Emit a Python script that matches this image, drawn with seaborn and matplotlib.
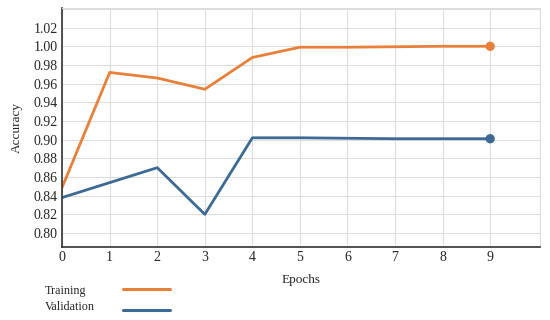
import pandas as pd
import matplotlib.pyplot as plt
import seaborn as sns
from matplotlib.lines import Line2D

# Accuracy per epoch
epochs = [0, 1, 2, 3, 4, 5, 6, 7, 8, 9]
training = [0.849, 0.972, 0.966, 0.954, 0.988, 0.999, 0.999, 0.9995, 1.0, 1.0]
validation = [0.838, 0.854, 0.870, 0.820, 0.902, 0.902, 0.9015, 0.901, 0.901, 0.901]
y_ticks = [0.80, 0.82, 0.84, 0.86, 0.88, 0.90, 0.92, 0.94, 0.96, 0.98, 1.00, 1.02]
series = ['Training', 'Validation']

df = pd.DataFrame({'Epoch': epochs, 'Training': training, 'Validation': validation})
df = df.melt(id_vars='Epoch', var_name='Set', value_name='Accuracy')

orange = '#E8803A'
blue = '#3C6A94'
colors = {'Training': orange, 'Validation': blue}

sns.set_style('whitegrid', {'grid.color': '#dddddd'})
plt.rcParams['font.family'] = ['Liberation Serif', 'DejaVu Serif']

fig = plt.figure(figsize=(5.5, 3.2), dpi=100)
ax = fig.add_axes([0.113, 0.228, 0.869, 0.747])

sns.lineplot(data=df, x='Epoch', y='Accuracy', hue='Set', palette=colors,
             linewidth=2, legend=False, ax=ax)
# end markers
last = df[df['Epoch'] == epochs[-1]]
sns.scatterplot(data=last, x='Epoch', y='Accuracy', hue='Set', palette=colors,
                s=45, edgecolor='none', legend=False, ax=ax, zorder=5)

ax.set_xlim(0, 10.05)
ax.set_ylim(0.785, 1.041)
ax.set_xticks(epochs)
ax.set_yticks(y_ticks + [1.04])
ax.set_yticklabels([f'{v:.2f}' for v in y_ticks] + [''])
ax.tick_params(labelsize=10, length=0, pad=3)
ax.set_xlabel('Epochs', fontsize=9.5, labelpad=7)
ax.set_ylabel('Accuracy', fontsize=9.5, labelpad=8)

for side in ['left', 'bottom']:
    ax.spines[side].set_color('#333333')
    ax.spines[side].set_linewidth(1.2)
for side in ['top', 'right']:
    ax.spines[side].set_color('#dddddd')
    ax.spines[side].set_linewidth(0.8)

# legend below the plot: label on the left, line sample to the right
text_y = [0.091, 0.041]
line_y = [0.097, 0.032]
for name, ty, ly in zip(series, text_y, line_y):
    fig.text(0.082, ty, name, fontsize=8.7, va='center', ha='left')
    fig.add_artist(Line2D([0.2236, 0.309], [ly, ly], color=colors[name],
                          lw=2.2, transform=fig.transFigure))

fig.savefig('out.png', dpi=100)
